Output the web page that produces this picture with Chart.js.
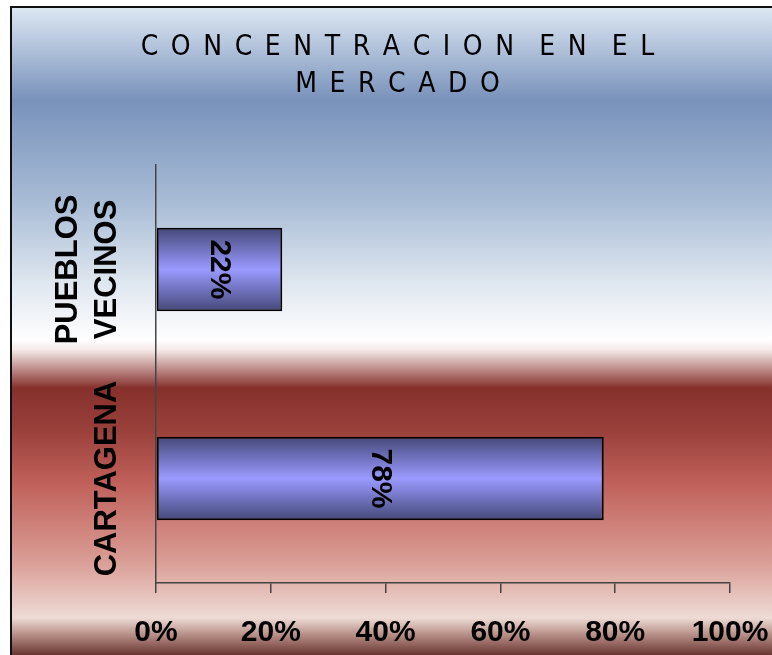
<!DOCTYPE html>
<html>
<head>
<meta charset="utf-8">
<script src="https://cdn.jsdelivr.net/npm/chart.js@4"></script>
<style>
  body { margin: 0; background: #fff; }
  #wrap { width: 772px; height: 655px; }
</style>
</head>
<body>
<div id="wrap"><canvas id="chart"></canvas></div>
<script>
// data
const categories = [["PUEBLOS", "VECINOS"], ["CARTAGENA"]];
const shares = [22, 78];
const xTicks = [0, 20, 40, 60, 80, 100];
// title words, letters spread with en spaces
const titleWords = [["CONCENTRACION", "EN", "EL"], ["MERCADO"]];

const narrow = "'Liberation Sans Narrow', 'Arial Narrow', 'DejaVu Sans Condensed', sans-serif";
const arial = "'Liberation Sans', Arial, sans-serif";
const sp = "\u2002";
const titleLines = titleWords.map(words => words.map(w => w.split("").join(sp)).join(sp + sp));

// page background with the blue / white / red bands
const background = {
  id: "background",
  afterLayout(chart) {
    // title is centred on the whole frame, not on the plot
    chart.titleBlock.left = 23;
    chart.titleBlock.right = 772;
  },
  beforeDraw(chart) {
    const ctx = chart.ctx;
    const w = chart.width, h = chart.height;
    ctx.save();
    ctx.fillStyle = "#fff";
    ctx.fillRect(0, 0, w, h);
    const g = ctx.createLinearGradient(0, 7, 0, h);
    const stops = [
      [7, "#dde8f3"], [100, "#7992bb"], [200, "#a7bbd5"], [280, "#dde5ee"],
      [340, "#ffffff"], [350, "#f4e9e8"], [388, "#85302c"], [430, "#9a403b"],
      [483, "#c0605a"], [560, "#d99c94"], [618, "#eedbd5"], [635, "#b58e86"],
      [655, "#6a3530"]
    ];
    stops.forEach(([y, c]) => g.addColorStop((y - 7) / (h - 7), c));
    ctx.fillStyle = g;
    ctx.fillRect(11, 7, w - 11, h - 7);
    ctx.strokeStyle = "#111";
    ctx.lineWidth = 2;
    ctx.beginPath();
    ctx.moveTo(11, h);
    ctx.lineTo(11, 7);
    ctx.lineTo(w, 7);
    ctx.stroke();
    ctx.restore();
  }
};

// rotated category names and value labels
const labels = {
  id: "labels",
  afterDatasetsDraw(chart) {
    const ctx = chart.ctx;
    const y = chart.scales.y;
    ctx.save();
    ctx.fillStyle = "#000";
    ctx.textAlign = "center";
    ctx.textBaseline = "middle";
    ctx.font = "bold 31px " + arial;
    categories.forEach((lines, i) => {
      const cy = y.getPixelForValue(i);
      const n = lines.length;
      lines.forEach((line, j) => {
        const cx = 107 - (n - 1 - j) * 39;
        ctx.save();
        ctx.translate(cx, cy);
        ctx.rotate(-Math.PI / 2);
        ctx.fillText(line, 0, 0);
        ctx.restore();
      });
    });
    const meta = chart.getDatasetMeta(0);
    ctx.font = "bold 30px " + arial;
    meta.data.forEach((bar, i) => {
      const cx = (bar.base + bar.x) / 2;
      ctx.save();
      ctx.translate(cx, bar.y);
      ctx.rotate(Math.PI / 2);
      ctx.fillText(shares[i] + "%", 0, 0);
      ctx.restore();
    });
    ctx.restore();
  }
};

const ctx = document.getElementById("chart").getContext("2d");

// dark edges, light middle, following the bar thickness
function barFill(context) {
  const chart = context.chart;
  const ys = chart.scales.y;
  if (!chart.chartArea || !ys || context.dataIndex === undefined) return "#8f8ff0";
  const cy = ys.getPixelForValue(context.dataIndex);
  const half = (ys.height / categories.length) * 0.4 / 2;
  const g = chart.ctx.createLinearGradient(0, cy - half, 0, cy + half);
  g.addColorStop(0, "#444878");
  g.addColorStop(0.5, "#9a9aff");
  g.addColorStop(1, "#444878");
  return g;
}

new Chart(ctx, {
  type: "bar",
  data: {
    labels: categories.map(c => c.join(" ")),
    datasets: [{
      data: shares,
      backgroundColor: barFill,
      borderColor: "#000",
      borderWidth: 2,
      borderSkipped: false,
      barPercentage: 0.4,
      categoryPercentage: 1
    }]
  },
  options: {
    indexAxis: "y",
    responsive: true,
    maintainAspectRatio: false,
    animation: false,
    layout: { padding: { left: 156, right: 42, top: 0, bottom: -18 } },
    plugins: {
      legend: { display: false },
      tooltip: { enabled: false },
      title: {
        display: true,
        text: titleLines,
        color: "#000",
        font: { family: narrow, size: 28, weight: "normal", lineHeight: 1.32 },
        padding: { top: 29, bottom: 62 },
        fullSize: true
      }
    },
    scales: {
      x: {
        min: 0,
        max: 100,
        afterBuildTicks: axis => { axis.ticks = xTicks.map(v => ({ value: v })); },
        afterFit: axis => { axis.paddingLeft = 0; axis.paddingRight = 0; },
        ticks: {
          callback: v => v + "%",
          color: "#000",
          padding: 22,
          maxRotation: 0,
          font: { family: arial, size: 30, weight: "bold" }
        },
        grid: { drawOnChartArea: false, drawTicks: true, tickLength: 10, color: "#444", lineWidth: 1.5 },
        border: { color: "#444", width: 1.5 }
      },
      y: {
        ticks: { display: false },
        grid: { display: false, drawTicks: false },
        border: { color: "#444", width: 1.5 }
      }
    }
  },
  plugins: [background, labels]
});
</script>
</body>
</html>
